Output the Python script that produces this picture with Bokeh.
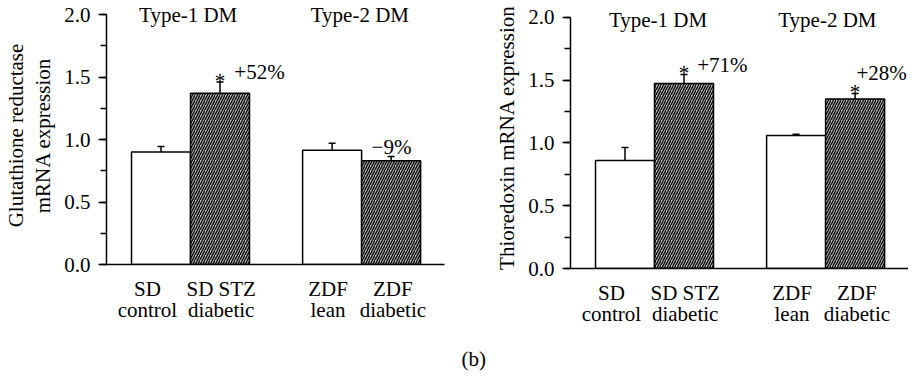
from bokeh.plotting import figure
from bokeh.models import (Range1d, SingleIntervalTicker, FixedTicker, Whisker, TeeHead,
                          ColumnDataSource, Label, PrintfTickFormatter, Title)
from bokeh.layouts import row
from bokeh.embed import file_html
from bokeh.resources import INLINE

# ---------------- data ----------------
groups = ["Type-1 DM", "Type-2 DM"]
categories = ["SD\ncontrol", "SD STZ\ndiabetic", "ZDF\nlean", "ZDF\ndiabetic"]
diabetic = [False, True, False, True]

gr_means = [0.90, 1.37, 0.915, 0.83]
gr_sem = [0.045, 0.09, 0.055, 0.035]
gr_signif = [False, True, False, False]
gr_changes = ["", "+52%", "", "\u22129%"]

trx_means = [0.86, 1.475, 1.06, 1.35]
trx_sem = [0.105, 0.07, 0.01, 0.045]
trx_signif = [False, True, False, True]
trx_changes = ["", "+71%", "", "+28%"]

# ---------------- layout ----------------
FONT = "Liberation Serif"
FS = "21px"
GAP = 0.9
xs = [round(i + 1 + (GAP if i >= 2 else 0), 3) for i in range(4)]
label_dx = [-0.23, 0.02, -0.07, 0.03]
label_xs = [round(x + d, 3) for x, d in zip(xs, label_dx)]
group_x = [round((xs[0] + xs[1]) / 2, 3), round((xs[2] + xs[3]) / 2, 3)]
X_START, X_END = 0.076, 5.805
TOP = 6


def panel(means, sems, signif, changes, ylabel, frame_h, y_end, border_left,
          border_right, change_pos, type_dx, type_y):
    p = figure(frame_width=338, frame_height=frame_h,
               x_range=Range1d(X_START, X_END), y_range=Range1d(0, y_end),
               output_backend="svg", toolbar_location=None,
               min_border_left=border_left, min_border_right=border_right,
               min_border_top=TOP, min_border_bottom=363 - TOP - frame_h)
    p.outline_line_color = None
    p.xgrid.visible = False
    p.ygrid.visible = False
    p.background_fill_color = "white"

    tops = [m + s for m, s in zip(means, sems)]
    src = ColumnDataSource(dict(x=xs, top=means, upper=tops,
                                fill=["#c8c8c8" if d else "white" for d in diabetic],
                                hatch=["/" if d else " " for d in diabetic]))
    p.add_layout(Whisker(source=src, base="x", upper="upper", lower="top",
                         line_width=1.5, line_color="black",
                         upper_head=TeeHead(size=7, line_width=1.5, line_color="black"),
                         lower_head=None))
    p.vbar(x="x", top="top", bottom=0, width=1.0, source=src,
           fill_color="fill", line_color="black", line_width=1.5,
           hatch_pattern="hatch", hatch_color="#111111", hatch_scale=5.0,
           hatch_weight=1.5)

    # y axis
    yax = p.yaxis[0]
    yax.ticker = SingleIntervalTicker(interval=0.5, num_minor_ticks=2)
    yax.formatter = PrintfTickFormatter(format="%.1f")
    yax.bounds = (0, 2.0)
    yax.axis_line_width = 1.5
    yax.major_tick_line_width = 1.5
    yax.minor_tick_line_width = 1.5
    yax.major_tick_out = 8
    yax.major_tick_in = 0
    yax.minor_tick_out = 6
    yax.minor_tick_in = 0
    yax.major_label_text_font = FONT
    yax.major_label_text_font_size = FS
    yax.major_label_text_color = "black"
    yax.major_label_standoff = 8
    yax.axis_label = ylabel
    yax.axis_label_text_font = FONT
    yax.axis_label_text_font_size = FS
    yax.axis_label_text_font_style = "normal"
    yax.axis_label_text_color = "black"
    yax.axis_label_standoff = 6
    yax.axis_label_text_line_height = 1.15

    # x axis
    xax = p.xaxis[0]
    xax.ticker = FixedTicker(ticks=label_xs)
    xax.major_label_overrides = {x: c for x, c in zip(label_xs, categories)}
    xax.major_tick_line_color = None
    xax.minor_tick_line_color = None
    xax.axis_line_width = 1.5
    xax.major_label_text_font = FONT
    xax.major_label_text_font_size = FS
    xax.major_label_text_color = "black"
    xax.major_label_standoff = 6
    xax.major_label_text_line_height = 0.9

    # group titles
    for gx, g, dx in zip(group_x, groups, type_dx):
        p.add_layout(Label(x=gx + dx, y=type_y, text=g, text_font=FONT,
                           text_font_size=FS, text_align="center",
                           text_baseline="middle", text_color="black"))
    # significance stars
    for x, t, s in zip(xs, tops, signif):
        if s:
            p.add_layout(Label(x=x, y=t + 0.012, text="*", text_font=FONT,
                               text_font_size=FS, text_align="center",
                               text_baseline="middle", text_color="black"))
    # percent changes
    for c, pos in zip(changes, change_pos):
        if c:
            p.add_layout(Label(x=pos[0], y=pos[1], text=c, text_font=FONT,
                               text_font_size=FS, text_align="center",
                               text_baseline="middle", text_color="black"))
    return p


left = panel(gr_means, gr_sem, gr_signif, gr_changes,
             "Glutathione reductase\nmRNA expression", 258, 2.064, 97, 17,
             [None, (2.67, 1.54), None, (4.906, 0.94)], [-0.04, -0.03], 2.0)
right = panel(trx_means, trx_sem, trx_signif, trx_changes,
              "Thioredoxin mRNA expression", 262, 2.0876, 109, 0,
              [None, (2.65, 1.625), None, (5.35, 1.558)], [0.06, 0.03], 1.984)
right.add_layout(Title(text="(b)", align="left", offset=-109, standoff=30,
                       text_font=FONT, text_font_size=FS, text_font_style="normal",
                       text_color="black"), "below")

layout = row(left, right, spacing=0)
open("out.html", "w").write(file_html(layout, INLINE))
